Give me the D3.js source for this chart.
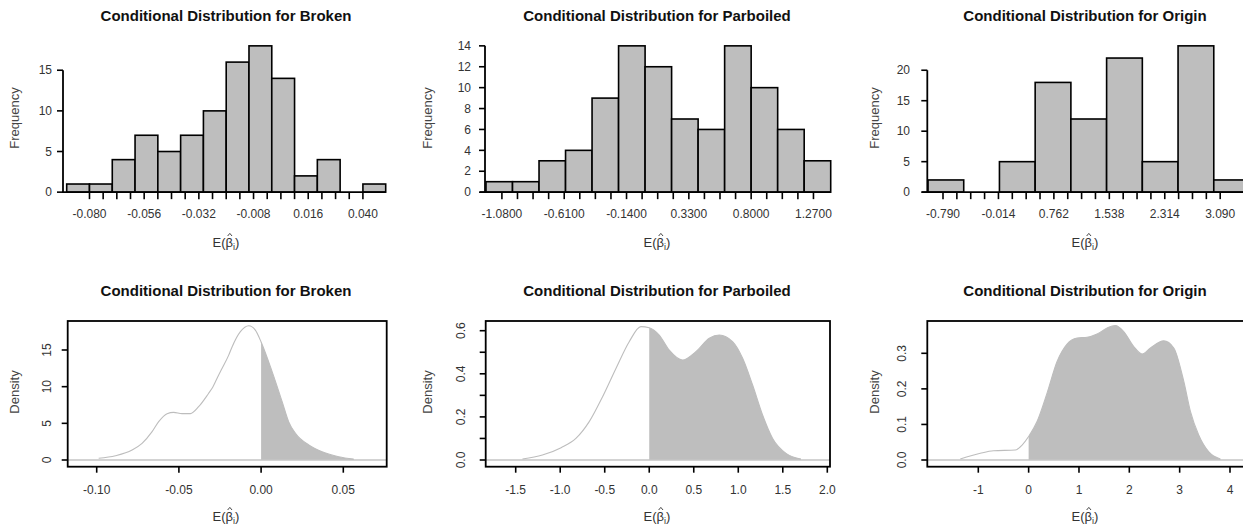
<!DOCTYPE html>
<html>
<head>
<meta charset="utf-8">
<script src="https://cdn.jsdelivr.net/npm/d3@7"></script>
<style>
  body { margin: 0; background: #fff; }
  svg { display: block; font-family: "Liberation Sans", Arial, sans-serif; }
</style>
</head>
<body>
<div id="chart"></div>
<script>
// ---- histogram data (bin edges and counts) ----
const brokenBreaks = [-0.09, -0.08, -0.07, -0.06, -0.05, -0.04, -0.03, -0.02, -0.01, 0, 0.01, 0.02, 0.03, 0.04, 0.05];
const brokenCounts = [1, 1, 4, 7, 5, 7, 10, 16, 18, 14, 2, 4, 0, 1];
const parboiledBreaks = [-1.2, -1.0, -0.8, -0.6, -0.4, -0.2, 0, 0.2, 0.4, 0.6, 0.8, 1.0, 1.2, 1.4];
const parboiledCounts = [1, 1, 3, 4, 9, 14, 12, 7, 6, 14, 10, 6, 3];
const originBreaks = [-1, -0.5, 0, 0.5, 1, 1.5, 2, 2.5, 3, 3.5];
const originCounts = [2, 0, 5, 18, 12, 22, 5, 24, 2];

// x tick labels of the histograms (3 unlabeled ticks between each)
const brokenTickLabels = ["-0.080", "-0.056", "-0.032", "-0.008", "0.016", "0.040"];
const parboiledTickLabels = ["-1.0800", "-0.6100", "-0.1400", "0.3300", "0.8000", "1.2700"];
const originTickLabels = ["-0.790", "-0.014", "0.762", "1.538", "2.314", "3.090"];

// y ticks of the histograms
const brokenFreqTicks = [0, 5, 10, 15];
const parboiledFreqTicks = [0, 2, 4, 6, 8, 10, 12, 14];
const originFreqTicks = [0, 5, 10, 15, 20];

// ---- density curves (x, density) ----
const brokenDensity = [
  [-0.0988, 0.23], [-0.0886, 0.59], [-0.0785, 1.36], [-0.0724, 2.27], [-0.0663, 3.86],
  [-0.0623, 5.23], [-0.0572, 6.32], [-0.0532, 6.5], [-0.0481, 6.32], [-0.043, 6.32],
  [-0.038, 7.27], [-0.0319, 9.1], [-0.0298, 9.78], [-0.0258, 11.6], [-0.0237, 12.5],
  [-0.0197, 14.3], [-0.0176, 15.45], [-0.0126, 17.5], [-0.0075, 18.3], [-0.0035, 17.7],
  [0, 16.1], [0.0067, 12.05], [0.0128, 7.95], [0.0168, 5.2], [0.0209, 3.64],
  [0.029, 2.05], [0.0371, 1.13], [0.0472, 0.45], [0.0563, 0.12]
];
const parboiledDensity = [
  [-1.424, 0.005], [-1.2, 0.023], [-0.99, 0.057], [-0.824, 0.10], [-0.674, 0.178],
  [-0.524, 0.294], [-0.374, 0.425], [-0.225, 0.549], [-0.094, 0.619], [0, 0.614],
  [0.112, 0.58], [0.225, 0.51], [0.375, 0.464], [0.524, 0.503], [0.674, 0.565],
  [0.787, 0.58], [0.936, 0.549], [1.049, 0.472], [1.161, 0.348], [1.273, 0.209],
  [1.386, 0.10], [1.536, 0.031], [1.704, 0.005]
];
const originDensity = [
  [-1.358, 0.003], [-0.96, 0.019], [-0.696, 0.026], [-0.265, 0.028], [-0.13, 0.042],
  [0, 0.066], [0.167, 0.108], [0.366, 0.188], [0.565, 0.277], [0.763, 0.326],
  [0.962, 0.343], [1.161, 0.345], [1.36, 0.354], [1.559, 0.371], [1.724, 0.378],
  [1.889, 0.361], [2.088, 0.319], [2.254, 0.298], [2.42, 0.315], [2.684, 0.335],
  [2.883, 0.315], [3.082, 0.221], [3.215, 0.136], [3.38, 0.07], [3.579, 0.023], [3.81, 0.003]
];
const brokenDensityTicks = [-0.10, -0.05, 0.00, 0.05];
const brokenDensityTickLabels = ["-0.10", "-0.05", "0.00", "0.05"];
const parboiledDensityTicks = [-1.5, -1.0, -0.5, 0, 0.5, 1.0, 1.5, 2.0];
const parboiledDensityTickLabels = ["-1.5", "-1.0", "-0.5", "0.0", "0.5", "1.0", "1.5", "2.0"];
const originDensityTicks = [-1, 0, 1, 2, 3, 4];
const originDensityTickLabels = ["-1", "0", "1", "2", "3", "4"];
const brokenDensityYTicks = [0, 5, 10, 15];
const brokenDensityYLabels = ["0", "5", "10", "15"];
const parboiledDensityYTicks = [0, 0.1, 0.2, 0.3, 0.4, 0.5, 0.6];
const parboiledDensityYLabels = ["0.0", "", "0.2", "", "0.4", "", "0.6"];
const originDensityYTicks = [0, 0.1, 0.2, 0.3];
const originDensityYLabels = ["0.0", "0.1", "0.2", "0.3"];

const variables = ["Broken", "Parboiled", "Origin"];

const width = 1243, height = 527;
const svg = d3.select("#chart").append("svg")
  .attr("width", width).attr("height", height)
  .attr("viewBox", [0, 0, width, height]);
svg.append("rect").attr("width", width).attr("height", height).attr("fill", "#fff");

const ink = "#000";
const textCol = "#333";
const barFill = "#bebebe";

// x label  E(beta-hat_i); the hat is a small stroke drawn over the beta
const xLabel = (x, y) => {
  const t = svg.append("text")
    .attr("x", x).attr("y", y)
    .attr("text-anchor", "middle")
    .attr("fill", textCol)
    .style("font-size", "13px");
  t.append("tspan").text("E(");
  t.append("tspan").text("\u03B2");
  t.append("tspan").text("i").style("font-size", "9px").attr("dy", 3);
  t.append("tspan").text(")").attr("dy", -3);

  // beta is character index 2 of the whole text
  const box = t.node().getExtentOfChar(2);
  const cx = box.x + box.width / 2 + 0.5;
  const top = box.y + 1;
  svg.append("path")
    .attr("d", `M${cx - 2.2},${top} L${cx},${top - 2.6} L${cx + 2.2},${top}`)
    .attr("fill", "none")
    .attr("stroke", textCol)
    .attr("stroke-width", 0.9);
};

const title = (text, x, y) => {
  svg.append("text")
    .attr("x", x).attr("y", y)
    .attr("text-anchor", "middle")
    .attr("fill", "#111")
    .style("font-size", "15px")
    .style("font-weight", "bold")
    .text(text);
};

const yTitle = (text, x, y) => {
  svg.append("text")
    .attr("transform", `translate(${x},${y}) rotate(-90)`)
    .attr("text-anchor", "middle")
    .attr("fill", "#444")
    .style("font-size", "13px")
    .text(text);
};

/*********************************************/
/*              histograms (top row)          */
/*********************************************/
const histPanels = [
  { name: variables[0], breaks: brokenBreaks, counts: brokenCounts, labels: brokenTickLabels, yTicks: brokenFreqTicks,
    px: [66.7, 385.7], axisX: 63, lineStart: 62, yLabEnd: 52, yTitleX: 19, center: 226 },
  { name: variables[1], breaks: parboiledBreaks, counts: parboiledCounts, labels: parboiledTickLabels, yTicks: parboiledFreqTicks,
    px: [486, 830.7], axisX: 485, lineStart: 480, yLabEnd: 471, yTitleX: 432, center: 657 },
  { name: variables[2], breaks: originBreaks, counts: originCounts, labels: originTickLabels, yTicks: originFreqTicks,
    px: [928, 1249.5], axisX: 927.3, lineStart: 921.7, yLabEnd: 910, yTitleX: 879, center: 1085 }
];

const histTop = 40, histBottom = 198;

histPanels.forEach(p => {
  const x = d3.scaleLinear()
    .domain([p.breaks[0], p.breaks[p.breaks.length - 1]])
    .range(p.px);
  const maxC = d3.max(p.counts);
  const y = d3.scaleLinear()
    .domain([-0.04 * maxC, 1.04 * maxC])
    .range([histBottom, histTop]);

  const g = svg.append("g");

  // bars
  g.selectAll("rect.bar")
    .data(p.counts)
    .join("rect")
      .attr("class", "bar")
      .attr("x", (d, i) => x(p.breaks[i]))
      .attr("width", (d, i) => x(p.breaks[i + 1]) - x(p.breaks[i]))
      .attr("y", d => y(d))
      .attr("height", d => y(0) - y(d))
      .attr("fill", barFill)
      .attr("stroke", ink)
      .attr("stroke-width", 1.6);

  // x axis: line + ticks every quarter label step
  const tickVals = p.labels.map(Number);
  const step = (tickVals[1] - tickVals[0]) / 4;
  const minor = d3.range(0, (tickVals.length - 1) * 4 + 1).map(k => tickVals[0] + k * step);
  const y0 = y(0);
  g.append("line")
    .attr("x1", p.lineStart).attr("x2", p.px[1])
    .attr("y1", y0).attr("y2", y0)
    .attr("stroke", ink).attr("stroke-width", 1.8);
  g.selectAll("line.xt")
    .data(minor)
    .join("line")
      .attr("class", "xt")
      .attr("x1", d => x(d)).attr("x2", d => x(d))
      .attr("y1", y0).attr("y2", y0 + 7)
      .attr("stroke", ink).attr("stroke-width", 1.6);
  g.selectAll("text.xl")
    .data(p.labels)
    .join("text")
      .attr("class", "xl")
      .attr("x", d => x(+d))
      .attr("y", 218)
      .attr("text-anchor", "middle")
      .attr("fill", textCol)
      .style("font-size", "12px")
      .text(d => d);

  // y axis
  g.append("line")
    .attr("x1", p.axisX).attr("x2", p.axisX)
    .attr("y1", y(0)).attr("y2", y(d3.max(p.yTicks)))
    .attr("stroke", ink).attr("stroke-width", 1.8);
  g.selectAll("line.yt")
    .data(p.yTicks)
    .join("line")
      .attr("class", "yt")
      .attr("x1", p.axisX - 6).attr("x2", p.axisX)
      .attr("y1", d => y(d)).attr("y2", d => y(d))
      .attr("stroke", ink).attr("stroke-width", 1.6);
  g.selectAll("text.yl")
    .data(p.yTicks)
    .join("text")
      .attr("class", "yl")
      .attr("x", p.yLabEnd)
      .attr("y", d => y(d))
      .attr("dy", "0.35em")
      .attr("text-anchor", "end")
      .attr("fill", textCol)
      .style("font-size", "12px")
      .text(d => d);

  title(`Conditional Distribution for ${p.name}`, p.center, 21);
  yTitle("Frequency", p.yTitleX, 118);
  xLabel(p.center, 247);
});

/*********************************************/
/*              densities (bottom row)        */
/*********************************************/
const densPanels = [
  { name: variables[0], data: brokenDensity, xt: brokenDensityTicks, xl: brokenDensityTickLabels,
    yt: brokenDensityYTicks, yl: brokenDensityYLabels,
    xDom: [-0.10, 0.05], xPx: [96.7, 343.3], yDom: [0, 15], yPx: [460, 350],
    box: [67.7, 386.7], yLabX: 47, yTitleX: 19, center: 226 },
  { name: variables[1], data: parboiledDensity, xt: parboiledDensityTicks, xl: parboiledDensityTickLabels,
    yt: parboiledDensityYTicks, yl: parboiledDensityYLabels,
    xDom: [-1.5, 2.0], xPx: [515.7, 827.3], yDom: [0, 0.6], yPx: [460, 330.7],
    box: [485.7, 830], yLabX: 461, yTitleX: 432, center: 657 },
  { name: variables[2], data: originDensity, xt: originDensityTicks, xl: originDensityTickLabels,
    yt: originDensityYTicks, yl: originDensityYLabels,
    xDom: [-1, 4], xPx: [978.3, 1230], yDom: [0, 0.3], yPx: [460, 353.3],
    box: [927.3, 1252], yLabX: 902, yTitleX: 879, center: 1085 }
];

const boxTop = 321, boxBottom = 466.7;

densPanels.forEach((p, idx) => {
  const x = d3.scaleLinear().domain(p.xDom).range(p.xPx);
  const y = d3.scaleLinear().domain(p.yDom).range(p.yPx);
  const g = svg.append("g");

  const clipId = `clip-pos-${idx}`;
  svg.append("clipPath").attr("id", clipId)
    .append("rect")
      .attr("x", x(0)).attr("y", boxTop)
      .attr("width", p.box[1] - x(0)).attr("height", boxBottom - boxTop);

  // shaded area for E(beta) > 0
  const area = d3.area()
    .x(d => x(d[0]))
    .y0(y(0))
    .y1(d => y(d[1]))
    .curve(d3.curveMonotoneX);
  g.append("path")
    .datum(p.data)
    .attr("d", area)
    .attr("fill", barFill)
    .attr("clip-path", `url(#${clipId})`);

  // baseline at 0
  g.append("line")
    .attr("x1", p.box[0]).attr("x2", p.box[1])
    .attr("y1", y(0)).attr("y2", y(0))
    .attr("stroke", "#c4c4c4").attr("stroke-width", 1.6);

  // density line
  const line = d3.line()
    .x(d => x(d[0]))
    .y(d => y(d[1]))
    .curve(d3.curveMonotoneX);
  g.append("path")
    .datum(p.data)
    .attr("d", line)
    .attr("fill", "none")
    .attr("stroke", "#bdbdbd")
    .attr("stroke-width", 1.1);

  // frame
  g.append("rect")
    .attr("x", p.box[0]).attr("y", boxTop)
    .attr("width", p.box[1] - p.box[0]).attr("height", boxBottom - boxTop)
    .attr("fill", "none").attr("stroke", ink).attr("stroke-width", 1.8);

  // x ticks
  g.selectAll("line.xt")
    .data(p.xt)
    .join("line")
      .attr("class", "xt")
      .attr("x1", d => x(d)).attr("x2", d => x(d))
      .attr("y1", boxBottom).attr("y2", boxBottom + 6)
      .attr("stroke", ink).attr("stroke-width", 1.6);
  g.selectAll("text.xl")
    .data(p.xt)
    .join("text")
      .attr("class", "xl")
      .attr("x", d => x(d))
      .attr("y", 494)
      .attr("text-anchor", "middle")
      .attr("fill", textCol)
      .style("font-size", "12px")
      .text((d, i) => p.xl[i]);

  // y ticks (rotated labels)
  g.selectAll("line.yt")
    .data(p.yt)
    .join("line")
      .attr("class", "yt")
      .attr("x1", p.box[0] - 6).attr("x2", p.box[0])
      .attr("y1", d => y(d)).attr("y2", d => y(d))
      .attr("stroke", ink).attr("stroke-width", 1.6);
  g.selectAll("text.yl")
    .data(p.yt)
    .join("text")
      .attr("class", "yl")
      .attr("transform", d => `translate(${p.yLabX},${y(d)}) rotate(-90)`)
      .attr("dy", "0.35em")
      .attr("text-anchor", "middle")
      .attr("fill", textCol)
      .style("font-size", "12px")
      .text((d, i) => p.yl[i]);

  title(`Conditional Distribution for ${p.name}`, p.center, 296);
  yTitle("Density", p.yTitleX, 392);
  xLabel(p.center, 521);
});
</script>
</body>
</html>
